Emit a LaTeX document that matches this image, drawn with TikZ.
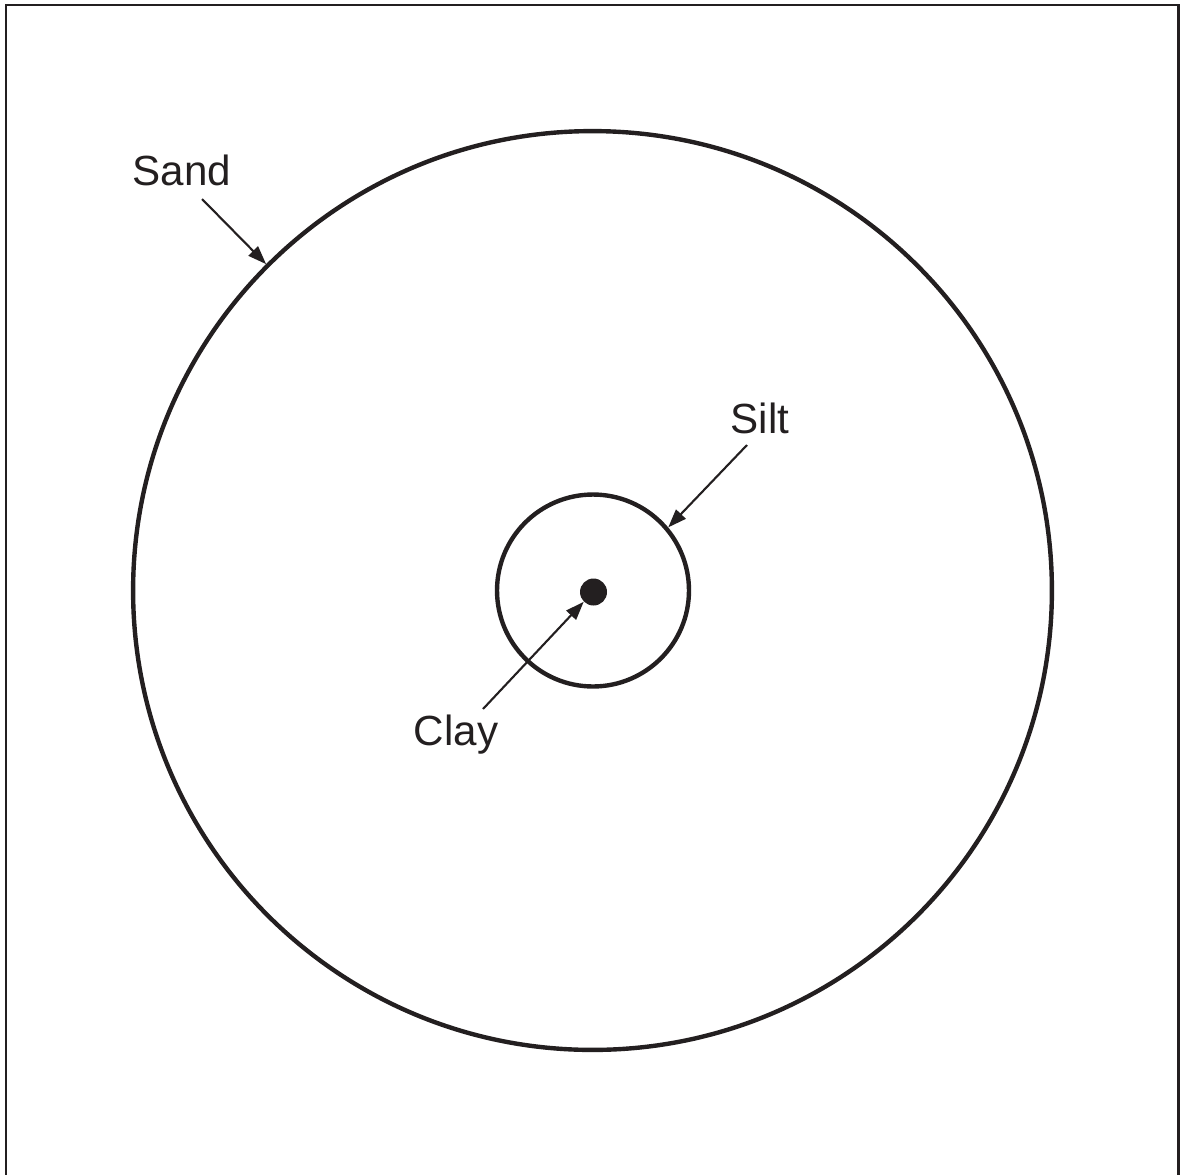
\documentclass[tikz,border=0pt]{standalone}
\usepackage{fontspec}
\setmainfont{Liberation Sans}
\usetikzlibrary{arrows.meta}
\definecolor{ink}{RGB}{35,31,32}

\begin{document}
\begin{tikzpicture}[x=0.02cm, y=-0.02cm, font=\fontsize{24}{28}\selectfont, color=ink,
    ring/.style={draw=ink, circle, line width=2.5pt, inner sep=0pt},
    pointer/.style={draw=ink, line width=1.2pt, -{Triangle[length=10.5pt, width=7.5pt]}}]
  \useasboundingbox (0,0) rectangle (1180,1174);
  \draw[line width=1.7pt] (6,5) rectangle (1178,1180);

  \node[ring, minimum size=18.38cm] (sand) at (592.5,590.5) {};
  \node[ring, minimum size=3.84cm] (silt) at (593,590.5) {};
  \node[circle, fill=ink, inner sep=0pt, minimum size=0.54cm] (clay) at (593.5,592) {};

  \node[anchor=base] (sandlbl) at (182,185) {Sand};
  \node[anchor=base] (siltlbl) at (760,433) {Silt};
  \node[anchor=base] (claylbl) at (456,745) {Clay};

  \coordinate (sandtail) at (202,199);
  \coordinate (silttail) at (747,445);
  \coordinate (claytail) at (483,709);

  \draw[pointer] (sandtail) -- (sand.135);
  \draw[pointer] (silttail) -- (silt.40);
  \draw[pointer] (claytail) -- (clay.225);
\end{tikzpicture}
\end{document}
